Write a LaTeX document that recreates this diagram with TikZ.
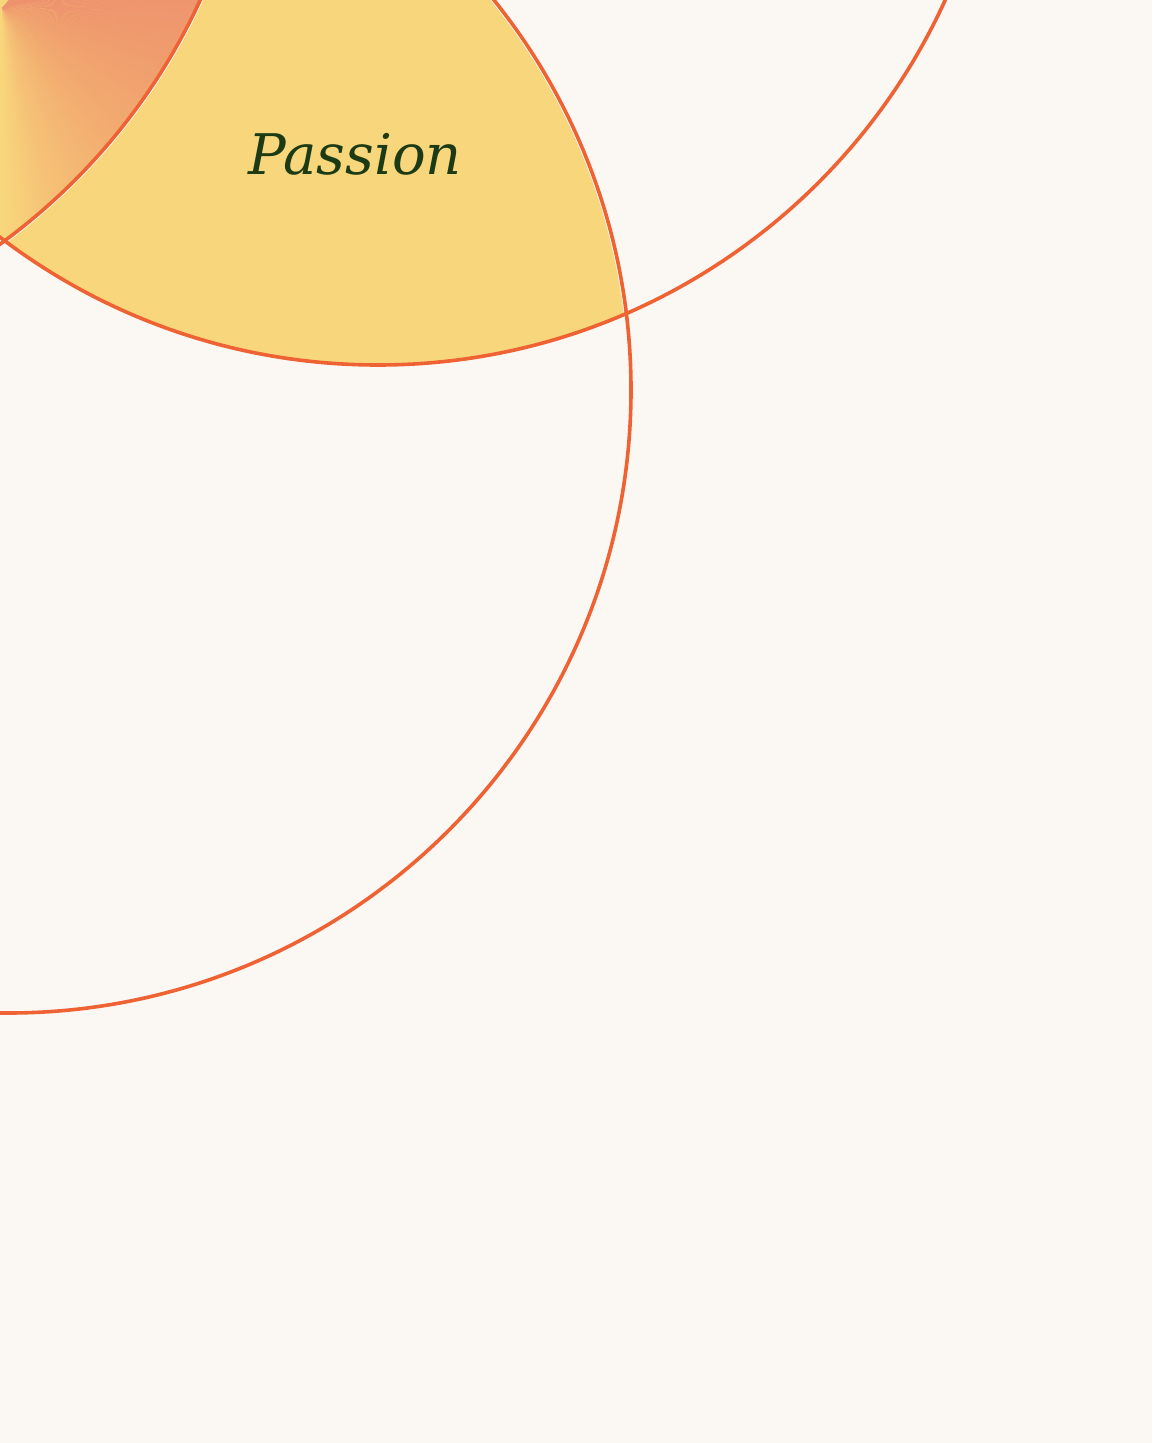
\documentclass[tikz,border=0pt]{standalone}
\usepackage{fontspec}
\newfontfamily\labelfont{DejaVu Serif}
\definecolor{bgcream}{HTML}{FBF8F4}
\definecolor{passyellow}{HTML}{F8D77C}
\definecolor{ringorange}{HTML}{EE6233}
\definecolor{textgreen}{HTML}{1C3A14}
\definecolor{gA}{HTML}{F8D77C}
\definecolor{gB}{HTML}{F5C076}
\definecolor{gC}{HTML}{F2AC70}
\definecolor{gD}{HTML}{F09E6E}
\definecolor{gE}{HTML}{EE926E}
\tikzset{
  ring/.style={draw=ringorange, line width=1.8pt},
  ringglow/.style={draw=white, line width=2.6pt},
  labeltext/.style={font=\labelfont\itshape\fontsize{28}{32}\selectfont, text=textgreen, inner sep=0pt}
}
\newcommand{\wedgefill}[3]{% start angle, end angle, colour
  \fill[#3] (2,8) -- ({2+1200*sin(#1)},{8+1200*cos(#1)}) -- ({2+1200*sin(#2)},{8+1200*cos(#2)}) -- cycle;}
\begin{document}
\begin{tikzpicture}[x=0.5pt,y=-0.5pt]
  \useasboundingbox (0,0) rectangle (1152,1443);
  \fill[bgcream] (0,0) rectangle (1152,1443);
  % circle centres
  \coordinate (cA) at (378,-258);
  \coordinate (cB) at (8,390);
  \coordinate (cC) at (-366,-260);
  \begin{scope}
    \clip (cA) circle [radius=311.5pt];
    \clip (cB) circle [radius=311.5pt];
    \fill[passyellow] (-10,-10) rectangle (1160,1450);
    \draw[ringglow] (cB) circle [radius=311.5pt];
    \draw[ringglow] (cC) circle [radius=311.5pt];
    \begin{scope}
      \clip (cC) circle [radius=311.5pt];
      \wedgefill{-40}{0.2}{gA}
      \foreach \a in {0,...,14} {
        \pgfmathsetmacro\p{100*(1-(\a+0.5)/15)}
        \wedgefill{\a}{\a+1.2}{gA!\p!gB}
      }
      \foreach \a in {15,...,39} {
        \pgfmathsetmacro\p{100*(1-(\a-15+0.5)/25)}
        \wedgefill{\a}{\a+1.2}{gB!\p!gC}
      }
      \foreach \a in {40,...,69} {
        \pgfmathsetmacro\p{100*(1-(\a-40+0.5)/30)}
        \wedgefill{\a}{\a+1.2}{gC!\p!gD}
      }
      \foreach \a in {70,...,99} {
        \pgfmathsetmacro\p{100*(1-(\a-70+0.5)/30)}
        \wedgefill{\a}{\a+1.2}{gD!\p!gE}
      }
      \wedgefill{100}{140}{gE}
    \end{scope}
  \end{scope}
  % rings
  \draw[ring] (cA) circle [radius=311.5pt];
  \draw[ring] (cB) circle [radius=311.5pt];
  \draw[ring] (cC) circle [radius=311.5pt];
  % label
  \node[labeltext, anchor=base] (passion) at (355,175) {Passion};
\end{tikzpicture}
\end{document}
